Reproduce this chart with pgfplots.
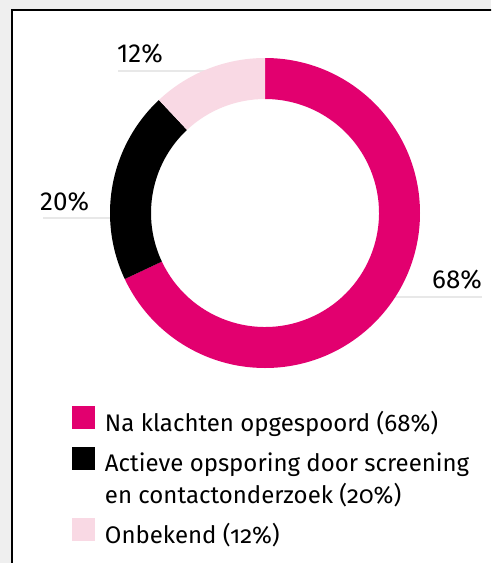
\documentclass[border=0pt]{standalone}
\usepackage{fontspec}
\setmainfont{Fira Sans}
\newfontfamily\legfont{Fira Sans}[Numbers=OldStyle]
\usepackage{pgfplots}
\usepackage{pgfplotstable}
\pgfplotsset{compat=1.18}
\definecolor{nkmag}{HTML}{E2006F}
\definecolor{nkpink}{HTML}{F9D9E4}
\definecolor{bggray}{HTML}{EFEFEF}
\definecolor{linegray}{HTML}{E8E8E8}

\pgfplotstableread{
share
68
20
12
}\donutdata

\newcommand\slice[3]{\edef\tmp{\noexpand\fill[#1] (axis cs:{265+155*cos(#2)},{213-155*sin(#2)}) arc[start angle=#2,end angle=#3,radius=155pt] -- (axis cs:{265+114*cos(#3)},{213-114*sin(#3)}) arc[start angle=#3,end angle=#2,radius=114pt] -- cycle;}\tmp}

\begin{document}%
\begin{tikzpicture}
\pgfplotstablegetelem{0}{share}\of\donutdata \let\va\pgfplotsretval
\pgfplotstablegetelem{1}{share}\of\donutdata \let\vb\pgfplotsretval
\pgfplotstablegetelem{2}{share}\of\donutdata \let\vc\pgfplotsretval
\pgfmathsetmacro\aA{90-3.6*\va}
\pgfmathsetmacro\aB{\aA-3.6*\vb}
\pgfmathsetmacro\aC{\aB-3.6*\vc}
\begin{axis}[
  width=491pt, height=563pt, scale only axis,
  xmin=0, xmax=491, ymin=0, ymax=563, y dir=reverse,
  hide axis,
  legend style={at={(0.1466,0.2789)}, anchor=north west, draw=none, fill=none,
    inner sep=0pt, outer sep=0pt, row sep=0pt, column sep=10pt,
    font=\legfont\fontsize{24}{31}\selectfont,
    nodes={inner sep=0pt, outer sep=0pt},
    cells={anchor=base west}},
  legend cell align=left,
]
\fill[bggray] (axis cs:0,0) rectangle (axis cs:491,563);
\fill[white] (axis cs:12,10) rectangle (axis cs:495,570);
\draw[line width=1.8pt] (axis cs:12,575) -- (axis cs:12,10) -- (axis cs:495,10);
\draw[linegray, line width=2pt] (axis cs:118,70.5) -- (axis cs:215,70.5);
\draw[linegray, line width=2pt] (axis cs:43,218) -- (axis cs:120,218);
\draw[linegray, line width=2pt] (axis cs:390,297) -- (axis cs:482,297);
\slice{nkmag}{90}{\aA}
\slice{black}{\aA}{\aB}
\slice{nkpink}{\aB}{\aC}
\node[anchor=base west, inner sep=0pt, font=\fontsize{26}{30}\selectfont] at (axis cs:117,62) {12\%};
\node[anchor=base west, inner sep=0pt, font=\fontsize{26}{30}\selectfont] at (axis cs:40,210) {20\%};
\node[anchor=base west, inner sep=0pt, font=\fontsize{26}{30}\selectfont] at (axis cs:432,288) {68\%};
\addlegendimage{legend image code/.code={\fill[nkmag, draw=none] (0pt,-7pt) rectangle (23pt,16pt); \path[draw=none, fill=none] (0pt,-25pt) -- (0pt,16pt);}}
\addlegendentry{Na klachten opgespoord (68\%)}
\addlegendimage{legend image code/.code={\fill[black, draw=none] (0pt,-7pt) rectangle (23pt,16pt); \path[draw=none, fill=none] (0pt,-15pt) -- (0pt,16pt);}}
\addlegendentry{Actieve opsporing door screening}
\addlegendimage{legend image code/.code={\path[draw=none, fill=none] (0pt,-24pt) -- (0pt,16pt);}}
\addlegendentry{en contactonderzoek (20\%)}
\addlegendimage{legend image code/.code={\fill[nkpink, draw=none] (0pt,-7pt) rectangle (23pt,16pt);}}
\addlegendentry{Onbekend (12\%)}
\end{axis}
\end{tikzpicture}%
\end{document}
